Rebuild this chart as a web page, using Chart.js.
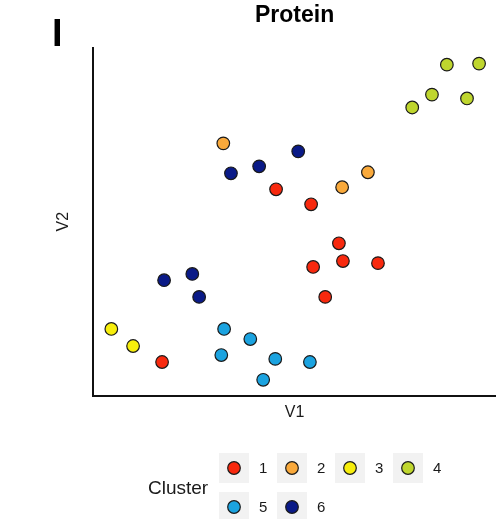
<!DOCTYPE html>
<html>
<head>
<meta charset="utf-8">
<script src="https://cdn.jsdelivr.net/npm/chart.js@4/dist/chart.umd.min.js"></script>
<style>
  html, body { margin: 0; padding: 0; background: #fff; }
  #chart { display: block; }
</style>
</head>
<body>
<canvas id="chart" width="496" height="519"></canvas>
<script>
  // cluster labels and colours
  var clusters = ['1', '2', '3', '4', '5', '6'];
  var clusterColors = ['#F8290E', '#F9A93B', '#F7EE0C', '#BFD62E', '#1BA3E0', '#0A1A87'];

  // V1 / V2 coordinates, one pair of arrays per cluster
  var c1x = [45.4, 54.1, 61.0, 62.0, 70.7, 54.6, 57.6, 17.1];
  var c1y = [59.3, 55.0, 43.8, 38.7, 38.1, 37.0, 28.4, 9.7];
  var c2x = [32.3, 61.8, 68.2];
  var c2y = [72.5, 59.9, 64.2];
  var c3x = [4.5, 9.9];
  var c3y = [19.2, 14.3];
  var c4x = [87.8, 95.8, 84.1, 92.8, 79.2];
  var c4y = [95.1, 95.4, 86.5, 85.4, 82.8];
  var c5x = [32.5, 39.0, 31.8, 45.2, 53.8, 42.2];
  var c5y = [19.2, 16.3, 11.7, 10.6, 9.7, 4.6];
  var c6x = [34.2, 41.2, 50.9, 17.6, 24.6, 26.3];
  var c6y = [63.9, 65.9, 70.2, 33.2, 35.0, 28.4];

  var xs = [c1x, c2x, c3x, c4x, c5x, c6x];
  var ys = [c1y, c2y, c3y, c4y, c5y, c6y];

  var datasets = clusters.map(function (name, i) {
    return {
      label: name,
      data: xs[i].map(function (x, j) { return { x: x, y: ys[i][j] }; }),
      backgroundColor: clusterColors[i],
      borderColor: '#1a1a1a',
      borderWidth: 1.2,
      pointRadius: 6.3,
      pointHoverRadius: 6.3
    };
  });

  // panel letter + legend drawn under "Cluster"
  var extras = {
    id: 'extras',
    afterDraw: function (chart) {
      var ctx = chart.ctx;
      ctx.save();
      ctx.fillStyle = '#000';
      ctx.font = 'bold 38px "Liberation Sans", Arial, sans-serif';
      ctx.textAlign = 'left';
      ctx.textBaseline = 'alphabetic';
      ctx.fillText('I', 52, 46);

      ctx.fillStyle = '#1a1a1a';
      ctx.font = '19px "Liberation Sans", Arial, sans-serif';
      ctx.textBaseline = 'middle';
      ctx.fillText('Cluster', 148, 489);

      ctx.font = '15px "Liberation Sans", Arial, sans-serif';
      chart.data.datasets.forEach(function (ds, i) {
        var col = i % 4, row = Math.floor(i / 4);
        var bx = 219 + col * 58, by = 453 + row * 39;
        ctx.fillStyle = '#F2F2F2';
        ctx.fillRect(bx, by, 30, 30);
        ctx.beginPath();
        ctx.arc(bx + 15, by + 15, 6.3, 0, Math.PI * 2);
        ctx.fillStyle = ds.backgroundColor;
        ctx.fill();
        ctx.lineWidth = 1.2;
        ctx.strokeStyle = '#1a1a1a';
        ctx.stroke();
        ctx.fillStyle = '#1a1a1a';
        ctx.fillText(ds.label, bx + 40, by + 16);
      });
      ctx.restore();
    }
  };

  var config = {
    type: 'scatter',
    data: { datasets: datasets },
    options: {
      responsive: false,
      animation: false,
      layout: { autoPadding: false, padding: { left: 54, right: 0, top: 0, bottom: 97 } },
      plugins: {
        legend: { display: false },
        tooltip: { enabled: false },
        title: {
          display: true,
          text: 'Protein',
          fullSize: false,
          color: '#000',
          font: { family: '"Liberation Sans", Arial, sans-serif', size: 23, weight: 'bold' },
          padding: { top: 2, bottom: 18 }
        }
      },
      scales: {
        x: {
          min: 0, max: 100,
          grid: { display: false, drawTicks: false, tickLength: 0 },
          ticks: { display: false },
          border: { display: true, color: '#111', width: 2 },
          title: {
            display: true, text: 'V1', color: '#1a1a1a',
            font: { family: '"Liberation Sans", Arial, sans-serif', size: 16 },
            padding: { top: 7, bottom: 0 }
          }
        },
        y: {
          min: 0, max: 100,
          grid: { display: false, drawTicks: false, tickLength: 0 },
          ticks: { display: false },
          border: { display: true, color: '#111', width: 2 },
          title: {
            display: true, text: 'V2', color: '#1a1a1a',
            font: { family: '"Liberation Sans", Arial, sans-serif', size: 16 },
            padding: { top: 0, bottom: 20 }
          }
        }
      }
    },
    plugins: [extras]
  };

  var ctx = document.getElementById('chart').getContext('2d');
  window.proteinChart = new Chart(ctx, config);
</script>
</body>
</html>
